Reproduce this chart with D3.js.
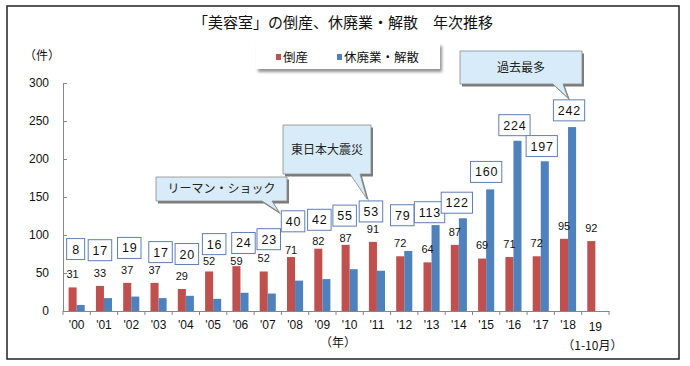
<!DOCTYPE html>
<html>
<head>
<meta charset="utf-8">
<script src="https://cdn.jsdelivr.net/npm/d3@7"></script>
<style>
  html, body { margin: 0; padding: 0; background: #fff; }
  svg { display: block; }
</style>
</head>
<body>
<svg id="chart" width="690" height="366"></svg>
<script>
// ---- data ----
const categories = ["'00","'01","'02","'03","'04","'05","'06","'07","'08","'09","'10","'11","'12","'13","'14","'15","'16","'17","'18","19"];
const bankruptcies = [31,33,37,37,29,52,59,52,71,82,87,91,72,64,87,69,71,72,95,92];
const closures = [8,17,19,17,20,16,24,23,40,42,55,53,79,113,122,160,224,197,242,null];
const yTicks = [0,50,100,150,200,250,300];
const seriesNames = ["倒産","休廃業・解散"];
const titleText = "「美容室」の倒産、休廃業・解散　年次推移";

// ---- layout (label placement, in value units / px) ----
const boxAt = [81.5,80,83,77.5,75,88,89.5,94.5,118,120,125.5,131,126,130,142.5,183,244.5,217,264,null];
const boxShift = [-1,-4,-2,2,1,1,3,1,-2,-3,-5,-6,-2,-2,-2,0,1,1,1,0];
const redLabelShift = [0,0,0,0,0,3,8,0,6,5,6,0,0,0,0,0,0,0,0,0];
const callouts = [
  {text:"リーマン・ショック", x0:156, y0:177, x1:287, y1:201, tl:262, tr:272, tipX:279, tipY:212},
  {text:"東日本大震災", x0:283, y0:125, x1:371, y1:174, tl:350, tr:360, tipX:367, tipY:199},
  {text:"過去最多", x0:460, y0:51, x1:582, y1:84, tl:553, tr:563, tipX:568, tipY:98}
];

const colors = {red:"#c0504d", blue:"#4f81bd"};
const numFont = "'Liberation Sans', Arial, sans-serif";
const jpFont = "'Noto Sans CJK JP', sans-serif";

const svg = d3.select("#chart");
const defs = svg.append("defs");
const f = defs.append("filter").attr("id","sh").attr("x","-10%").attr("y","-20%").attr("width","130%").attr("height","160%");
f.append("feDropShadow").attr("dx",2).attr("dy",3).attr("stdDeviation",1.6).attr("flood-color","#777").attr("flood-opacity",0.8);

// frame
svg.append("rect").attr("x",7).attr("y",6).attr("width",672).attr("height",353)
  .attr("fill","#fff").attr("stroke","#222").attr("stroke-width",1.5);

// title
svg.append("text").attr("x",343).attr("y",28).attr("text-anchor","middle")
  .attr("font-family",jpFont).attr("font-size",15).attr("fill","#111").text(titleText);

// unit
svg.append("text").attr("x",24).attr("y",60).attr("font-family",jpFont).attr("font-size",12).attr("fill","#111").text("（件）");

// scales
const x = d3.scaleBand().domain(categories).range([63,609]).paddingInner(0.41).paddingOuter(0.205);
const xs = d3.scaleBand().domain(["r","b"]).range([0,x.bandwidth()]);
const y = d3.scaleLinear().domain([0,300]).range([311,83]);

// y axis
const ya = svg.append("g").attr("transform","translate(63,0)")
  .call(d3.axisLeft(y).tickValues(yTicks).tickSizeInner(-4).tickSizeOuter(0).tickPadding(14));
ya.select(".domain").attr("stroke","#868686");
ya.selectAll(".tick line").attr("stroke","#868686");
ya.selectAll(".tick text").attr("font-family",numFont).attr("font-size",12).attr("fill","#111");

// bars
const g = svg.append("g");
categories.forEach((c,i)=>{
  const x0 = x(c);
  g.append("rect").attr("x",x0+xs("r")).attr("y",y(bankruptcies[i]))
    .attr("width",xs.bandwidth()).attr("height",y(0)-y(bankruptcies[i])).attr("fill",colors.red);
  if (closures[i] != null) {
    g.append("rect").attr("x",x0+xs("b")).attr("y",y(closures[i]))
      .attr("width",xs.bandwidth()).attr("height",y(0)-y(closures[i])).attr("fill",colors.blue);
  }
});

// x axis
const xa = svg.append("g").attr("transform","translate(0,311)")
  .call(d3.axisBottom(x).tickSize(0).tickPadding(9));
xa.select(".domain").attr("stroke","#868686");
xa.selectAll(".tick text").attr("font-family",numFont).attr("font-size",12).attr("fill","#111")
  .attr("dy", d => d === "19" ? "0.95em" : "0.71em");
d3.range(categories.length+1).forEach(i=>{
  const bx = x.range()[0] + i*x.step();
  xa.append("line").attr("x1",bx).attr("x2",bx).attr("y1",0).attr("y2",4).attr("stroke","#868686");
});
svg.append("text").attr("x",338).attr("y",347).attr("text-anchor","middle")
  .attr("font-family",jpFont).attr("font-size",12).attr("fill","#111").text("（年）");
svg.append("text").attr("x",x("19")+x.bandwidth()/2-3).attr("y",350).attr("text-anchor","middle")
  .attr("font-family",jpFont).attr("font-size",12).attr("fill","#111").text("（1-10月）");

// red value labels
categories.forEach((c,i)=>{
  svg.append("text").attr("x",x(c)+xs("r")+xs.bandwidth()/2).attr("y",y(bankruptcies[i])-13+redLabelShift[i])
    .attr("dy","0.35em").attr("text-anchor","middle").attr("font-family",numFont).attr("font-size",11)
    .attr("fill","#111").text(bankruptcies[i]);
});

// blue value boxes
categories.forEach((c,i)=>{
  if (closures[i] == null) return;
  const cx = x(c) + x.bandwidth()/2 + boxShift[i];
  const cy = y(boxAt[i]);
  const bg = svg.append("g");
  const r = bg.append("rect");
  const t = bg.append("text").attr("x",cx+0.4).attr("y",cy).attr("dy","0.36em").attr("text-anchor","middle")
    .attr("font-family",numFont).attr("font-size",12.5).attr("fill","#111").attr("letter-spacing",0.8).text(closures[i]);
  const w = Math.max(18, t.node().getComputedTextLength() + 8);
  r.attr("x",cx-w/2).attr("y",cy-10.5).attr("width",w).attr("height",21)
    .attr("fill","#fff").attr("stroke","#5f7fb5").attr("stroke-width",1);
});

// callouts
function calloutPath(d, dx, dy){
  const p = d3.path();
  p.moveTo(d.x0+dx,d.y0+dy);
  p.lineTo(d.x1+dx,d.y0+dy);
  p.lineTo(d.x1+dx,d.y1+dy);
  p.lineTo(d.tr+dx,d.y1+dy);
  p.lineTo(d.tipX+dx,d.tipY+dy);
  p.lineTo(d.tl+dx,d.y1+dy);
  p.lineTo(d.x0+dx,d.y1+dy);
  p.closePath();
  return p.toString();
}
callouts.forEach(d=>{
  svg.append("path").attr("d",calloutPath(d,2,2.5)).attr("fill","#7a7a7a");
  svg.append("path").attr("d",calloutPath(d,0,0)).attr("fill","#d8ebf8").attr("stroke","#8a8a8a").attr("stroke-width",0.8);
  svg.append("text").attr("x",(d.x0+d.x1)/2).attr("y",(d.y0+d.y1)/2).attr("dy","0.36em").attr("text-anchor","middle")
    .attr("font-family",jpFont).attr("font-size",12).attr("fill","#222").text(d.text);
});

// legend
svg.append("rect").attr("x",256).attr("y",43).attr("width",184).attr("height",26).attr("fill","#fff").attr("filter","url(#sh)");
const lg = svg.append("g");
[[276,colors.red,seriesNames[0]],[337,colors.blue,seriesNames[1]]].forEach(([lx,col,name])=>{
  lg.append("rect").attr("x",lx).attr("y",54).attr("width",5).attr("height",6).attr("fill",col);
  lg.append("text").attr("x",lx+7).attr("y",57).attr("dy","0.36em").attr("font-family",jpFont)
    .attr("font-size",12.5).attr("fill","#111").text(name);
});
</script>
</body>
</html>
